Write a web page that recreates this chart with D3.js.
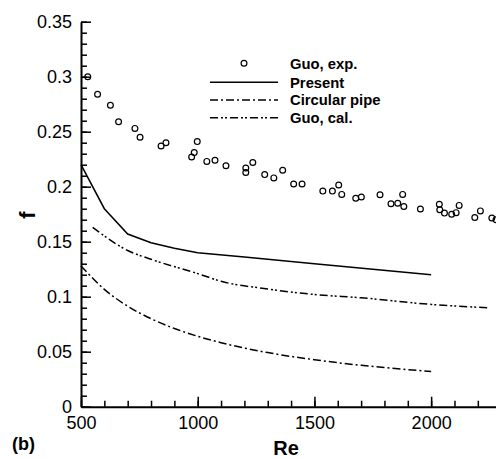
<!DOCTYPE html>
<html>
<head>
<meta charset="utf-8">
<script src="https://cdn.jsdelivr.net/npm/d3@7"></script>
<style>
  body { margin: 0; background: #fff; }
  svg { display: block; font-family: "Liberation Sans", Arial, sans-serif; }
</style>
</head>
<body>
<div id="chart"></div>
<script>
// Guo, exp. (scatter)
const expRe = [529, 571, 626, 661, 731, 753, 843, 864, 974, 985, 998, 1039, 1074, 1121, 1206, 1206, 1236,
  1287, 1326, 1364, 1411, 1447, 1536, 1577, 1604, 1617, 1677, 1701, 1781, 1828, 1857, 1878, 1883,
  1954, 2035, 2037, 2057, 2088, 2107, 2120, 2187, 2211, 2260, 2278];
const expF = [0.300, 0.284, 0.274, 0.259, 0.253, 0.245, 0.237, 0.240, 0.227, 0.231, 0.241, 0.223, 0.224, 0.219, 0.217, 0.213, 0.222,
  0.211, 0.208, 0.215, 0.2025, 0.2025, 0.196, 0.196, 0.2015, 0.193, 0.1895, 0.1906, 0.1927, 0.1845, 0.185, 0.193, 0.182,
  0.1797, 0.184, 0.179, 0.176, 0.175, 0.1764, 0.183, 0.172, 0.178, 0.1715, 0.170];

// Present
const presentRe = [500, 600, 700, 800, 900, 1000, 1200, 1500, 2000];
const presentF = [0.220, 0.180, 0.157, 0.149, 0.144, 0.140, 0.136, 0.130, 0.120];

// Circular pipe
const pipeRe = [500, 600, 700, 800, 900, 1000, 1100, 1200, 1300, 1400, 1500, 1600, 1700, 1800, 1900, 2000];
const pipeF = [0.128, 0.1067, 0.0914, 0.080, 0.0711, 0.064, 0.0582, 0.0533, 0.0492, 0.0457, 0.0427, 0.040, 0.0376, 0.0356, 0.0337, 0.032];

// Guo, cal.
const calRe = [550, 700, 800, 1000, 1100, 1300, 1500, 1700, 2000, 2240];
const calF = [0.163, 0.142, 0.134, 0.121, 0.114, 0.107, 0.102, 0.099, 0.093, 0.090];

const legendLabels = ["Guo, exp.", "Present", "Circular pipe", "Guo, cal."];
const xTicks = [500, 1000, 1500, 2000];
const yTicks = [0, 0.05, 0.1, 0.15, 0.2, 0.25, 0.3, 0.35];

const width = 496, height = 459;

const svg = d3.select("#chart").append("svg")
  .attr("width", width)
  .attr("height", height);

const x = d3.scaleLinear().domain([500, 2280]).range([81, 496.5]);
const y = d3.scaleLinear().domain([0, 0.35]).range([406.7, 21.7]);

const dashes = {
  present: null,
  pipe: "8,3,2,3",
  cal: "8,3,2,2,2,3"
};

// minor ticks
const yMinor = d3.range(0, 0.3501, 0.01);
const xMinor = d3.range(500, 2281, 100);

svg.append("g")
  .attr("transform", "translate(81,0)")
  .call(d3.axisLeft(y).tickValues(yMinor).tickSize(-6).tickSizeOuter(0).tickFormat(""))
  .call(g => g.select(".domain").remove())
  .selectAll("line").attr("stroke-width", 1.5);

svg.append("g")
  .attr("transform", "translate(0,406.7)")
  .call(d3.axisBottom(x).tickValues(xMinor).tickSize(-6).tickSizeOuter(0).tickFormat(""))
  .call(g => g.select(".domain").remove())
  .selectAll("line").attr("stroke-width", 1.5);

// major ticks + labels
const yAxis = svg.append("g")
  .attr("transform", "translate(81,0)")
  .call(d3.axisLeft(y).tickValues(yTicks).tickSize(-10).tickSizeOuter(0).tickPadding(9)
    .tickFormat(d => String(+d.toFixed(2))));
yAxis.selectAll("text").attr("font-size", 18).attr("fill", "#000").attr("font-family", "Liberation Sans, Arial, sans-serif");
yAxis.selectAll("line").attr("stroke-width", 1.5);
yAxis.select(".domain").attr("stroke-width", 2);

const xAxis = svg.append("g")
  .attr("transform", "translate(0,406.7)")
  .call(d3.axisBottom(x).tickValues(xTicks).tickSize(-10).tickSizeOuter(0).tickPadding(10)
    .tickFormat(d3.format("d")));
xAxis.selectAll("text").attr("font-size", 18).attr("fill", "#000").attr("font-family", "Liberation Sans, Arial, sans-serif");
xAxis.selectAll("line").attr("stroke-width", 1.5);
xAxis.select(".domain").attr("stroke-width", 2);

// lines
const line = d3.line().x(d => x(d[0])).y(d => y(d[1]));
const series = [
  { re: presentRe, f: presentF, dash: dashes.present, curve: d3.curveLinear },
  { re: pipeRe, f: pipeF, dash: dashes.pipe, curve: d3.curveMonotoneX },
  { re: calRe, f: calF, dash: dashes.cal, curve: d3.curveMonotoneX }
];
series.forEach(s => {
  svg.append("path")
    .datum(d3.zip(s.re, s.f))
    .attr("d", line.curve(s.curve))
    .attr("fill", "none")
    .attr("stroke", "#000")
    .attr("stroke-width", 1.5)
    .attr("stroke-dasharray", s.dash);
});

// scatter
svg.append("g").selectAll("circle")
  .data(d3.zip(expRe, expF))
  .join("circle")
  .attr("cx", d => x(d[0]))
  .attr("cy", d => y(d[1]))
  .attr("r", 2.9)
  .attr("fill", "none")
  .attr("stroke", "#000")
  .attr("stroke-width", 1.2);

// legend
const legend = svg.append("g");
const legY = [63.3, 82.3, 100, 117.7];
legend.append("circle")
  .attr("cx", 244).attr("cy", legY[0]).attr("r", 2.9)
  .attr("fill", "none").attr("stroke", "#000").attr("stroke-width", 1.2);
[dashes.present, dashes.pipe, dashes.cal].forEach((dash, i) => {
  legend.append("line")
    .attr("x1", 210).attr("x2", 278)
    .attr("y1", legY[i + 1]).attr("y2", legY[i + 1])
    .attr("stroke", "#000").attr("stroke-width", 1.5)
    .attr("stroke-dasharray", dash);
});
legend.selectAll("text")
  .data(legendLabels)
  .join("text")
  .attr("x", 290)
  .attr("y", (d, i) => legY[i] + 5.2)
  .attr("font-size", 14.8)
  .attr("font-weight", "bold")
  .text(d => d);

// axis titles
svg.append("text")
  .attr("transform", "translate(35,215) rotate(-90)")
  .attr("text-anchor", "middle")
  .attr("font-size", 22)
  .attr("font-weight", "bold")
  .text("f");

svg.append("text")
  .attr("x", 286).attr("y", 455)
  .attr("text-anchor", "middle")
  .attr("font-size", 20)
  .attr("font-weight", "bold")
  .text("Re");

svg.append("text")
  .attr("x", 12).attr("y", 450)
  .attr("font-size", 18)
  .attr("font-weight", "bold")
  .text("(b)");
</script>
</body>
</html>
